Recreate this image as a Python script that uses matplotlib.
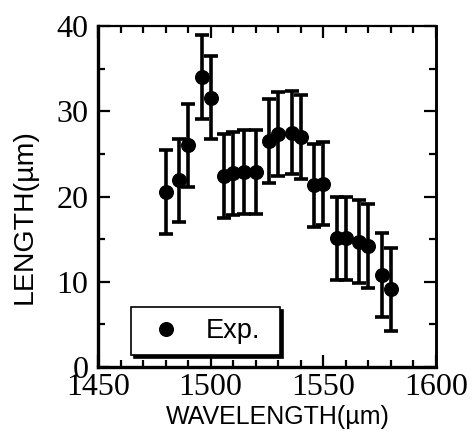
import matplotlib
matplotlib.use("Agg")
import matplotlib.pyplot as plt
from matplotlib.ticker import MultipleLocator

wavelength = [1480, 1486, 1490, 1496, 1500, 1506, 1510, 1515, 1520, 1526, 1530,
              1536, 1540, 1546, 1550, 1556, 1560, 1566, 1570, 1576, 1580]
length = [20.5, 21.9, 26.0, 34.0, 31.6, 22.4, 22.7, 22.9, 22.9, 26.5, 27.3,
          27.5, 27.0, 21.3, 21.5, 15.1, 15.1, 14.7, 14.2, 10.8, 9.1]
error = [4.9] * len(length)
xticks = [1450, 1500, 1550, 1600]
yticks = [0, 10, 20, 30, 40]

W, H = 475, 442
fig = plt.figure(figsize=(W / 100, H / 100), dpi=100)
ax = fig.add_axes([98 / W, (H - 367) / H, 338 / W, 341 / H])

cont = ax.errorbar(wavelength, length, yerr=error, fmt='o', color='black',
                   markersize=9.8, elinewidth=2.6, capsize=4.8, capthick=2.6,
                   label='Exp.')

ax.set_xlim(1450, 1600)
ax.set_ylim(0, 40)
ax.set_xticks(xticks)
ax.set_yticks(yticks)
ax.xaxis.set_minor_locator(MultipleLocator(10))
ax.yaxis.set_minor_locator(MultipleLocator(5))
ax.tick_params(which='both', direction='in', top=True, right=True, width=1.6,
               colors='black')
ax.tick_params(which='major', length=8.5)
ax.tick_params(which='minor', length=5)
ax.tick_params(axis='y', pad=7)
ax.tick_params(axis='x', pad=4)
for lab in ax.get_xticklabels() + ax.get_yticklabels():
    lab.set_fontfamily('Liberation Serif')
    lab.set_fontsize(23)

for side in ['left', 'bottom']:
    ax.spines[side].set_linewidth(2.4)
ax.spines['right'].set_linewidth(2.1)
ax.spines['top'].set_linewidth(1.6)

ax.set_xlabel('WAVELENGTH(µm)', fontfamily='Liberation Sans', fontsize=18)
ax.set_ylabel('LENGTH(µm)', fontfamily='Liberation Sans', fontsize=20.5)
ax.xaxis.set_label_coords((278 - 98) / 338, (367 - 405) / 341)
ax.yaxis.set_label_coords((38 - 98) / 338, (367 - 217) / 341)

leg = ax.legend(handles=[cont.lines[0]], labels=['Exp.'], loc='lower left',
                bbox_to_anchor=((131 - 98) / 338, (367 - 355) / 341, 149 / 338, 56 / 341),
                mode='expand', borderaxespad=0, borderpad=0.4,
                handlelength=1.8, handletextpad=0.55, fancybox=False,
                shadow={'color': 'black', 'alpha': 1},
                prop={'family': 'Liberation Sans', 'size': 19.5},
                frameon=True)
leg.get_frame().set_edgecolor('black')
leg.get_frame().set_linewidth(1.2)
leg.get_frame().set_alpha(1)

fig.savefig('out.png', dpi=100)
